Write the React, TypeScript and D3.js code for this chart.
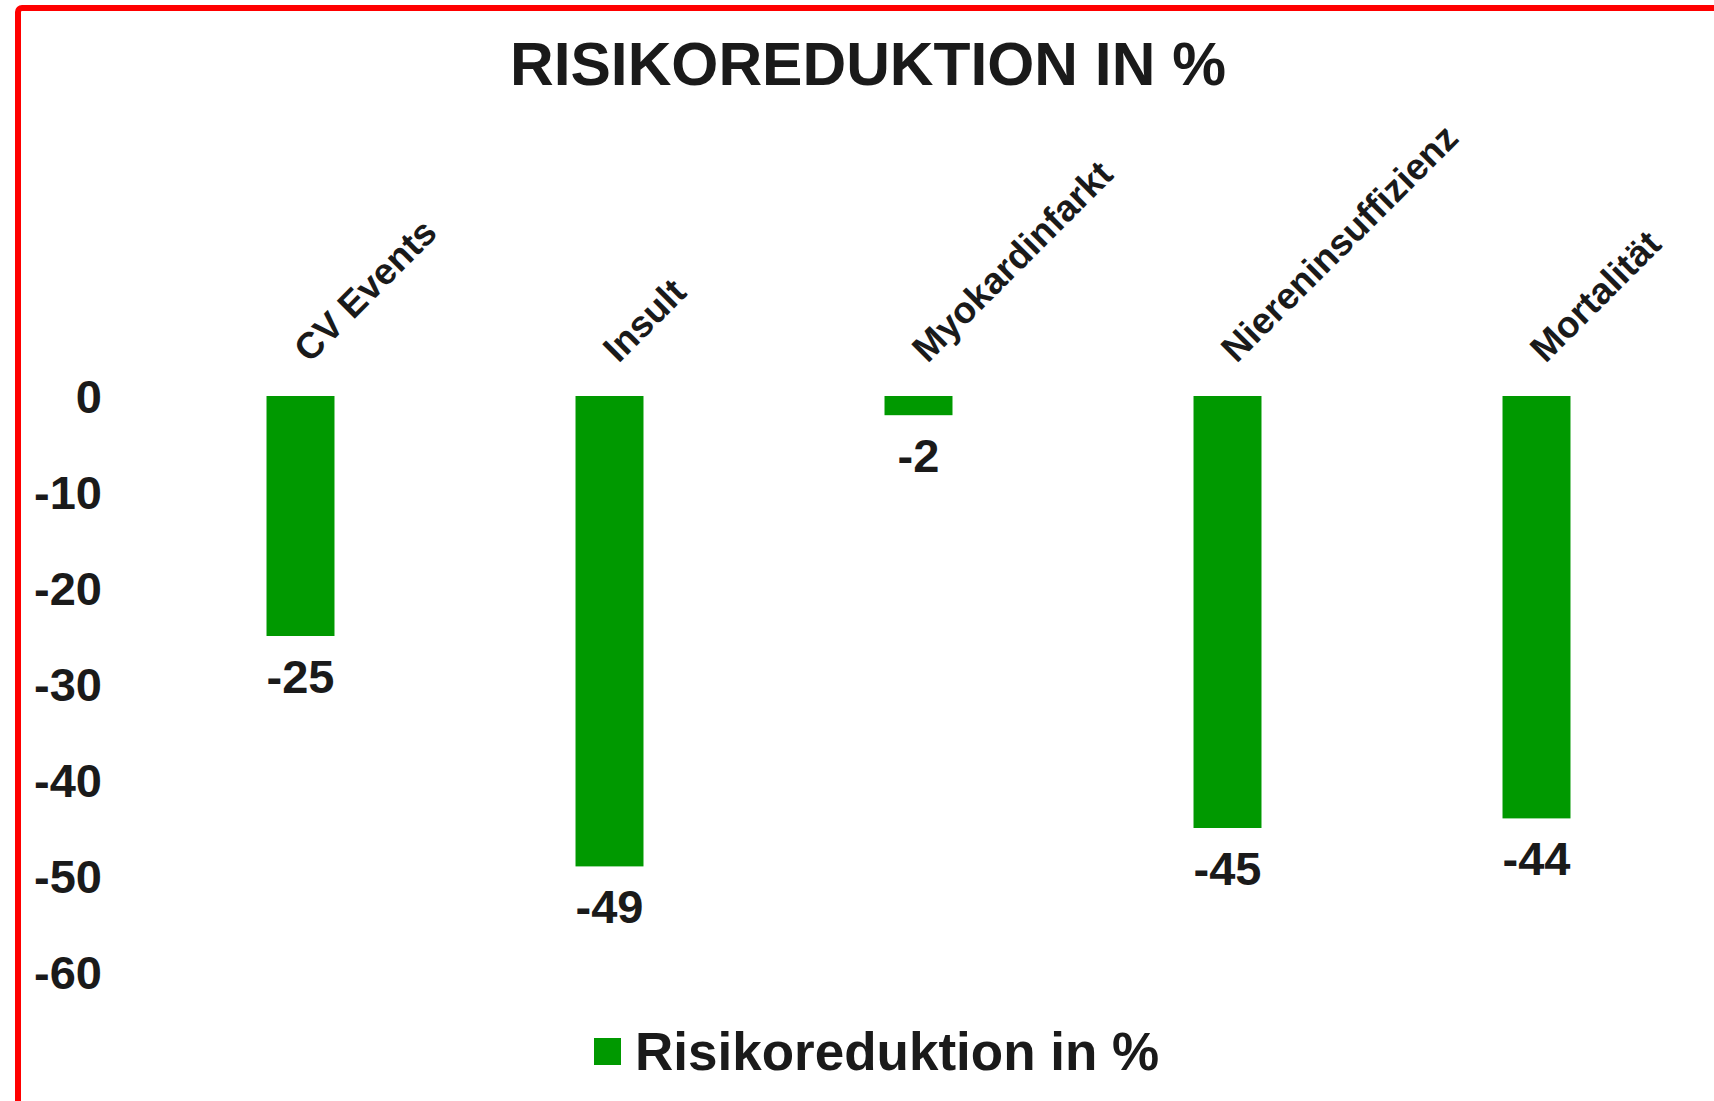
import React from "react";
import * as d3 from "d3";

// Chart data
const categories: string[] = ["CV Events", "Insult", "Myokardinfarkt", "Niereninsuffizienz", "Mortalität"];
const riskReduction: number[] = [-25, -49, -2, -45, -44];
const yTicks: number[] = [0, -10, -20, -30, -40, -50, -60];
const chartTitle = "RISIKOREDUKTION IN %";
const seriesName = "Risikoreduktion in %";

const W = 1714;
const H = 1101;
const FONT = "'Liberation Sans', Arial, Helvetica, sans-serif";
const TEXT = "#1a1a1a";
const GREEN = "#009900";

export default function App() {
  const x = d3
    .scaleBand<string>()
    .domain(categories)
    .range([146, 1691])
    .paddingInner(0.78)
    .paddingOuter(0.39);

  const y = d3.scaleLinear().domain([-60, 0]).range([972, 396]);

  const bars = categories.map((c, i) => ({ c, v: riskReduction[i] }));

  return (
    <svg
      width={W}
      height={H}
      viewBox={`0 0 ${W} ${H}`}
      style={{ position: "fixed", left: 0, top: 0, background: "#fff" }}
      fontFamily={FONT}
      fontWeight="bold"
    >
      <rect x={0} y={0} width={W} height={H} fill="#fff" />
      {/* frame */}
      <rect x={18} y={8} width={W + 40} height={H + 40} rx={4} fill="none" stroke="#ff0000" strokeWidth={6} />

      {/* title */}
      <text x={868} y={85} textAnchor="middle" fontSize={60.5} fill={TEXT}>
        {chartTitle}
      </text>

      {/* y axis labels */}
      {yTicks.map((t) => (
        <text key={t} x={102} y={y(t)} dy="0.36em" textAnchor="end" fontSize={47} fill={TEXT}>
          {t}
        </text>
      ))}

      {/* bars */}
      {bars.map((b) => (
        <rect
          key={b.c}
          x={x(b.c)!}
          y={y(0)}
          width={x.bandwidth()}
          height={y(b.v) - y(0)}
          fill={GREEN}
        />
      ))}

      {/* value labels */}
      {bars.map((b) => (
        <text
          key={"v" + b.c}
          x={x(b.c)! + x.bandwidth() / 2}
          y={y(b.v) + 57}
          textAnchor="middle"
          fontSize={47}
          fill={TEXT}
        >
          {b.v}
        </text>
      ))}

      {/* rotated category labels */}
      {categories.map((c) => {
        const cx = x(c)! + x.bandwidth() / 2 + 9;
        const cy = 364;
        return (
          <text
            key={"c" + c}
            x={cx}
            y={cy}
            transform={`rotate(-45 ${cx} ${cy})`}
            textAnchor="start"
            fontSize={37}
            fill={TEXT}
          >
            {c}
          </text>
        );
      })}

      {/* legend */}
      <rect x={594} y={1038} width={27} height={27} fill={GREEN} />
      <text x={635} y={1070} fontSize={53} fill={TEXT}>
        {seriesName}
      </text>
    </svg>
  );
}
